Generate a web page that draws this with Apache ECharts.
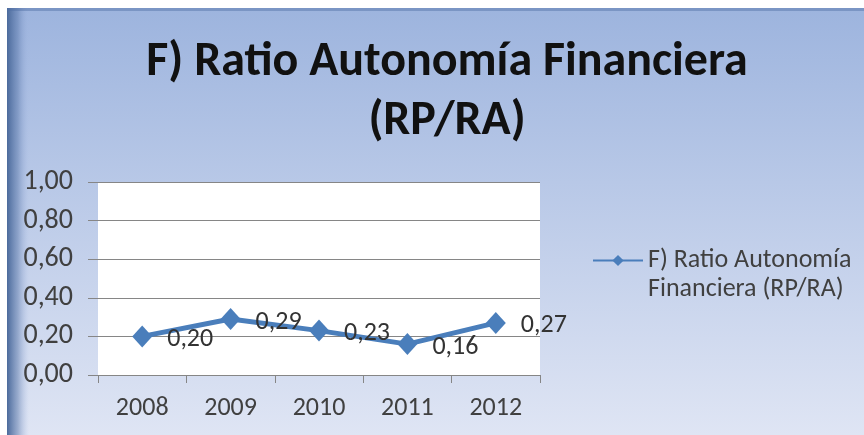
<!DOCTYPE html>
<html>
<head>
<meta charset="utf-8">
<title>F) Ratio Autonomía Financiera (RP/RA)</title>
<script src="https://cdn.jsdelivr.net/npm/echarts@6/dist/echarts.min.js"></script>
<style>
  html, body { margin: 0; padding: 0; background: #fff; }
  #mainChart { width: 864px; height: 435px; }
</style>
</head>
<body>
<div id="mainChart"></div>
<script>
var years = ['2008', '2009', '2010', '2011', '2012'];
var ratioValues = [0.20, 0.29, 0.23, 0.16, 0.27];
var seriesName = 'F) Ratio Autonomía Financiera (RP/RA)';
var titleText = 'F) Ratio Autonomía Financiera\n(RP/RA)';

var textFont = 'Carlito, "Liberation Sans", Arial, sans-serif';

function comma(v) {
    return v.toFixed(2).replace('.', ',');
}

var myChart = echarts.init(document.getElementById('mainChart'));

var option = {
    backgroundColor: '#fff',
    animation: false,
    // fondo azul degradado del gráfico de Excel
    graphic: [{
        type: 'rect',
        z: -10,
        shape: { x: 7, y: 8, width: 857, height: 427 },
        style: {
            fill: new echarts.graphic.LinearGradient(0, 0, 0, 1, [
                { offset: 0, color: '#9db4de' },
                { offset: 1, color: '#dfe5f4' }
            ])
        }
    }, {
        type: 'rect',
        z: -9,
        shape: { x: 7, y: 8, width: 22, height: 427 },
        style: {
            fill: new echarts.graphic.LinearGradient(0, 0, 1, 0, [
                { offset: 0, color: '#4b6a9b' },
                { offset: 0.5, color: 'rgba(90,120,170,0.5)' },
                { offset: 1, color: 'rgba(160,180,224,0)' }
            ])
        }
    }, {
        type: 'rect',
        z: -9,
        shape: { x: 7, y: 8, width: 857, height: 3 },
        style: { fill: 'rgba(80,110,165,0.45)' }
    }],
    title: {
        text: titleText,
        left: 442,
        top: 28,
        textAlign: 'center',
        textStyle: {
            fontFamily: textFont,
            fontSize: 48,
            fontWeight: 'bold',
            color: '#111',
            lineHeight: 59
        }
    },
    legend: {
        left: 587,
        top: 212,
        itemWidth: 50,
        itemHeight: 14,
        itemGap: 4,
        data: [seriesName],
        formatter: function () {
            // línea vacía delante para que el icono quede junto a la primera línea
            return '\nF) Ratio Autonomía\nFinanciera (RP/RA)';
        },
        textStyle: {
            fontFamily: textFont,
            fontSize: 26,
            color: '#404040',
            lineHeight: 29
        }
    },
    grid: {
        left: 98,
        right: 324,
        top: 182,
        bottom: 60,
        show: true,
        backgroundColor: '#fff',
        borderWidth: 0
    },
    xAxis: {
        type: 'category',
        data: years,
        axisLine: { lineStyle: { color: '#868686', width: 1 } },
        axisTick: { show: true, length: 8, lineStyle: { color: '#868686' } },
        axisLabel: {
            margin: 20,
            fontFamily: textFont,
            fontSize: 26,
            color: '#404040'
        }
    },
    yAxis: {
        type: 'value',
        min: 0,
        max: 1,
        interval: 0.2,
        axisLine: { show: false },
        axisTick: { show: true, length: 10, lineStyle: { color: '#868686' } },
        splitLine: { lineStyle: { color: '#868686', width: 1 } },
        axisLabel: {
            margin: 25,
            fontFamily: textFont,
            fontSize: 28,
            color: '#404040',
            formatter: function (v) { return comma(v); }
        }
    },
    series: [{
        name: seriesName,
        type: 'line',
        data: ratioValues,
        symbol: 'diamond',
        symbolSize: [20, 22],
        lineStyle: { color: '#4a7ebb', width: 5 },
        itemStyle: { color: '#4a7ebb' },
        label: {
            show: true,
            position: 'right',
            distance: 15,
            offset: [0, 3],
            fontFamily: textFont,
            fontSize: 26,
            color: '#333',
            formatter: function (p) { return comma(p.value); }
        }
    }]
};

myChart.setOption(option);
</script>
</body>
</html>
